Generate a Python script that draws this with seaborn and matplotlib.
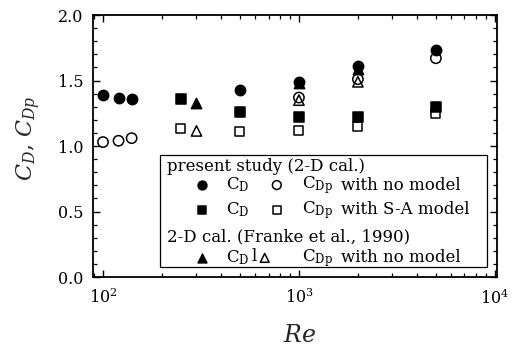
import matplotlib
matplotlib.use("Agg")
import matplotlib.pyplot as plt
import seaborn as sns
from matplotlib.ticker import LogLocator, MultipleLocator, NullFormatter
from matplotlib.patches import Rectangle

# ---- data ----
re_nm_cd = [100, 120, 140, 500, 1000, 2000, 5000]
cd_nm = [1.39, 1.37, 1.36, 1.43, 1.49, 1.61, 1.73]
re_nm_cdp = [100, 120, 140, 1000, 2000, 5000]
cdp_nm = [1.03, 1.04, 1.06, 1.37, 1.51, 1.67]
re_sa = [250, 500, 1000, 2000, 5000]
cd_sa = [1.36, 1.26, 1.22, 1.22, 1.30]
cdp_sa = [1.13, 1.11, 1.12, 1.15, 1.25]
re_fr = [300, 1000, 2000]
cd_fr = [1.33, 1.48, 1.59]
cdp_fr = [1.115, 1.35, 1.49]

x_ticks = [1e2, 1e3, 1e4]
y_ticks = [0.0, 0.5, 1.0, 1.5, 2.0]

sns.set_theme(style="ticks")
plt.rcParams["font.family"] = ["DejaVu Serif"]
plt.rcParams["mathtext.fontset"] = "dejavuserif"

fig = plt.figure(figsize=(5.23, 3.49), dpi=100)
ax = fig.add_axes([0.178, 0.2063, 0.950 - 0.178, 0.957 - 0.2063])

lw = 1.1
# open markers
sns.scatterplot(x=re_nm_cdp, y=cdp_nm, marker="o", s=55, color="none",
                edgecolor="black", linewidth=lw, ax=ax)
sns.scatterplot(x=re_sa, y=cdp_sa, marker="s", s=42, color="none",
                edgecolor="black", linewidth=lw, ax=ax)
sns.scatterplot(x=re_fr, y=cdp_fr, marker="^", s=55, color="none",
                edgecolor="black", linewidth=lw, ax=ax)
# filled markers
sns.scatterplot(x=re_fr, y=cd_fr, marker="^", s=55, color="black",
                edgecolor="black", linewidth=lw, ax=ax)
sns.scatterplot(x=re_sa, y=cd_sa, marker="s", s=42, color="black",
                edgecolor="black", linewidth=lw, ax=ax)
sns.scatterplot(x=re_nm_cd, y=cd_nm, marker="o", s=55, color="black",
                edgecolor="black", linewidth=lw, ax=ax)

ax.set_xscale("log")
ax.set_xlim(89, 10240)
ax.set_ylim(0, 2.0)
ax.set_xticks(x_ticks)
ax.set_yticks(y_ticks)
ax.set_yticklabels([f"{v:.1f}" for v in y_ticks])
ax.xaxis.set_minor_locator(LogLocator(base=10, subs=range(2, 10)))
ax.xaxis.set_minor_formatter(NullFormatter())
ax.yaxis.set_minor_locator(MultipleLocator(0.1))
ax.tick_params(which="both", direction="in", top=True, right=True,
               color="black", labelsize=11.5, labelcolor="black")
ax.tick_params(which="major", length=5, width=1.0)
ax.tick_params(which="minor", length=3, width=0.9)
ax.tick_params(axis="y", pad=7)
ax.tick_params(axis="x", pad=8)
for sp in ax.spines.values():
    sp.set_visible(True)
    sp.set_linewidth(1.3)
    sp.set_color("black")

ax.set_xlabel("$Re$", fontsize=17)
ax.set_ylabel("$C_D$, $C_{Dp}$", fontsize=16)
ax.xaxis.set_label_coords(0.512, -0.180)
ax.yaxis.set_label_coords(-0.124, 0.53)

# ---- legend box (hand-built) ----
T = ax.transAxes
ax.add_patch(Rectangle((0.166, 0.038), 0.975 - 0.166, 0.466 - 0.038,
                       transform=T, fill=True, facecolor="white",
                       edgecolor="black", linewidth=0.9, zorder=5))
fs = 12
tk = dict(transform=T, va="center", ha="left", fontsize=fs, zorder=6,
          color="black")
ax.text(0.183, 0.420, "present study (2-D cal.)", **tk)
ax.text(0.183, 0.153, "2-D cal. (Franke et al., 1990)", **tk)

rows = [0.351, 0.256, 0.073]
mk = [("o", "o"), ("s", "s"), ("^", "^")]
sizes = [40, 30, 40]
labels = ["with no model", "with S-A model", "with no model"]
m2x = [0.455, 0.455, 0.425]
for yr, (m1, m2), ss, lab, x2 in zip(rows, mk, sizes, labels, m2x):
    ax.scatter([0.270], [yr], marker=m1, s=ss, color="black",
               edgecolor="black", linewidth=lw, transform=T, zorder=6,
               clip_on=False)
    ax.scatter([x2], [yr], marker=m2, s=ss, color="none",
               edgecolor="black", linewidth=lw, transform=T, zorder=6,
               clip_on=False)
    ax.text(0.328, yr, r"$\mathrm{C_D}$", **tk)
    ax.text(0.518, yr, r"$\mathrm{C_{Dp}}$", **tk)
    ax.text(0.613, yr, lab, **tk)
ax.text(0.400, rows[2] + 0.005, "l", transform=T, va="center", ha="center",
        fontsize=fs, zorder=6, color="black")

fig.savefig("out.png", dpi=100)
